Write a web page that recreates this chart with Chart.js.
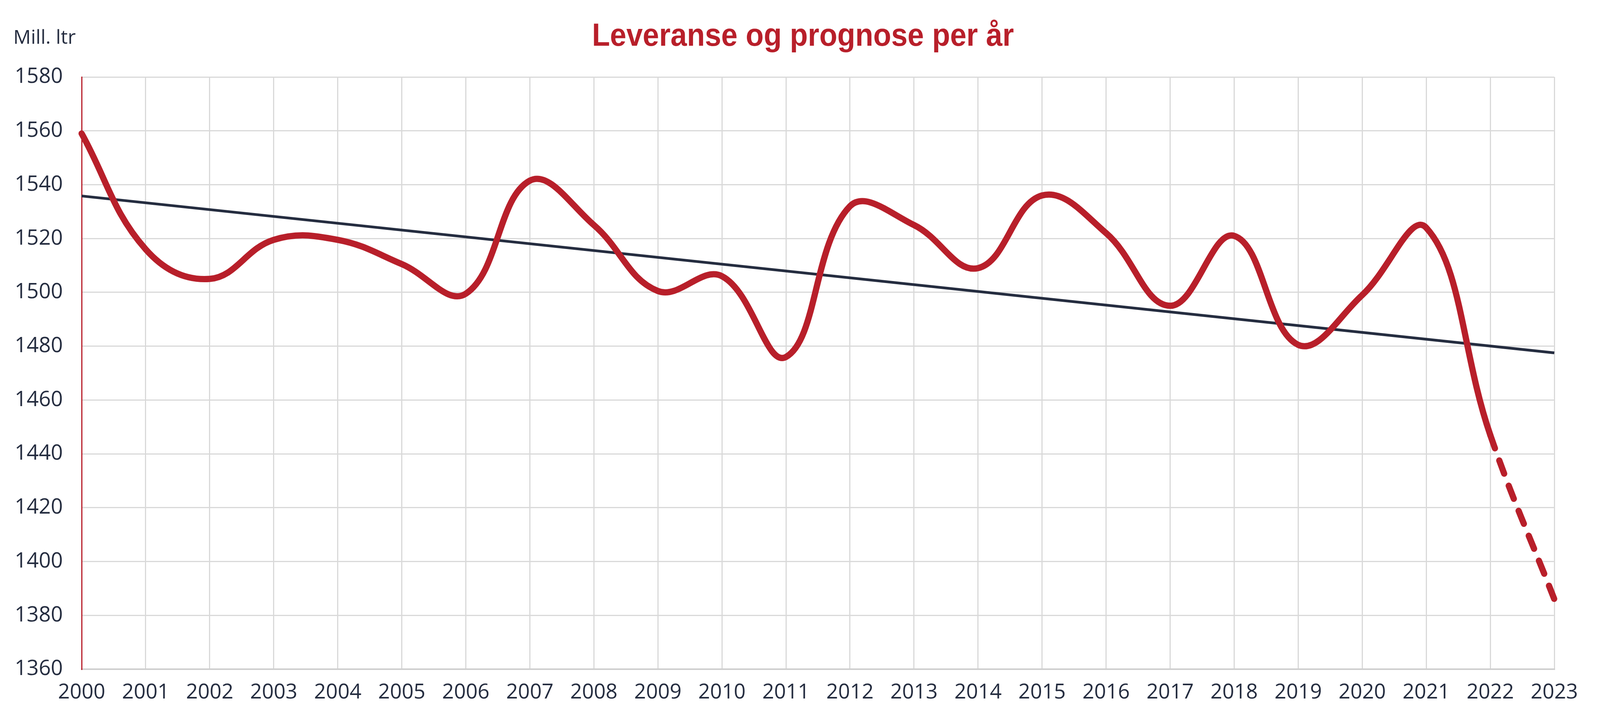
<!DOCTYPE html>
<html>
<head>
<meta charset="utf-8">
<title>Leveranse og prognose per år</title>
<script src="https://cdn.jsdelivr.net/npm/chart.js@4.4.1/dist/chart.umd.min.js"></script>
<style>
  html, body { margin: 0; padding: 0; background: #ffffff; }
  #wrap { width: 4111px; height: 1842px; position: relative; }
</style>
</head>
<body>
<div id="wrap"><canvas id="leveranseChart"></canvas></div>
<script>
// Years on the x axis
const years = ['2000', '2001', '2002', '2003', '2004', '2005', '2006', '2007', '2008', '2009', '2010', '2011',
  '2012', '2013', '2014', '2015', '2016', '2017', '2018', '2019', '2020', '2021', '2022', '2023'];

// Delivery per year (mill. litres), 2022-2023 is the forecast part
const leveranse = [1559, 1516, 1505, 1519.5, 1519.5, 1510.5, 1499.5, 1541.5, 1525, 1500.5, 1506, 1476,
  1532, 1525, 1509, 1536, 1522, 1495, 1521, 1480.5, 1499, 1524, 1447, 1386];

// Linear trend, only the two end values are given
const trend = [1535.8, null, null, null, null, null, null, null, null, null, null, null,
  null, null, null, null, null, null, null, null, null, null, null, 1477.5];

const yMin = 1360;
const yMax = 1580;
const yStep = 20;

const red = '#b81f2a';
const navy = '#252d40';
const gridColor = '#d9d9d9';
const forecastFrom = 22; // index where the dashed forecast starts

// Title and unit label
const headerPlugin = {
  id: 'header',
  afterDraw(chart) {
    const ctx = chart.ctx;
    const title = 'Leveranse og prognose per år';
    ctx.save();
    ctx.textBaseline = 'alphabetic';
    ctx.fillStyle = red;
    ctx.textAlign = 'center';
    ctx.font = 'bold 82px "Liberation Sans Narrow", "Liberation Sans", sans-serif';
    // squeeze the title a bit, the original uses a condensed face
    const sx = 1080 / ctx.measureText(title).width;
    ctx.translate(chart.width / 2, 117);
    ctx.scale(sx, 1);
    ctx.fillText(title, 0, 0);
    ctx.restore();

    ctx.save();
    ctx.fillStyle = navy;
    ctx.textAlign = 'left';
    ctx.textBaseline = 'alphabetic';
    ctx.font = '50px "Open Sans", sans-serif';
    ctx.fillText('Mill. ltr', 34, 112);
    ctx.restore();
  }
};

new Chart(document.getElementById('leveranseChart'), {
  type: 'line',
  data: {
    labels: years,
    datasets: [{
      label: 'Leveranse',
      data: leveranse,
      borderColor: red,
      borderWidth: 16,
      borderCapStyle: 'round',
      borderJoinStyle: 'round',
      tension: 0.4,
      pointRadius: 0,
      fill: false,
      segment: {
        borderDash: ctx => ctx.p0DataIndex >= forecastFrom ? [36, 33] : undefined
      }
    }, {
      label: 'Trend',
      data: trend,
      borderColor: navy,
      borderWidth: 7,
      tension: 0,
      spanGaps: true,
      pointRadius: 0,
      fill: false
    }]
  },
  options: {
    responsive: true,
    maintainAspectRatio: false,
    devicePixelRatio: 1,
    animation: false,
    layout: {
      padding: { top: 197, right: 132, bottom: 0, left: 0 }
    },
    plugins: {
      legend: { display: false },
      title: { display: false },
      tooltip: { enabled: false }
    },
    scales: {
      x: {
        offset: false,
        grid: {
          color: gridColor,
          lineWidth: 3,
          drawTicks: false
        },
        border: { color: '#cfcfcf', width: 4 },
        ticks: {
          color: navy,
          padding: 28,
          maxRotation: 0,
          autoSkip: false,
          font: { family: '"Open Sans", sans-serif', size: 53 }
        },
        afterFit: function(scale) {
          scale.height = 130;
        }
      },
      y: {
        min: yMin,
        max: yMax,
        grid: {
          color: gridColor,
          lineWidth: 3,
          drawTicks: false
        },
        border: { color: red, width: 3 },
        ticks: {
          stepSize: yStep,
          color: navy,
          padding: 48,
          font: { family: '"Open Sans", sans-serif', size: 54 },
          callback: value => String(value)
        },
        afterFit: function(scale) {
          scale.width = 209;
        }
      }
    }
  },
  plugins: [headerPlugin]
});
</script>
</body>
</html>
